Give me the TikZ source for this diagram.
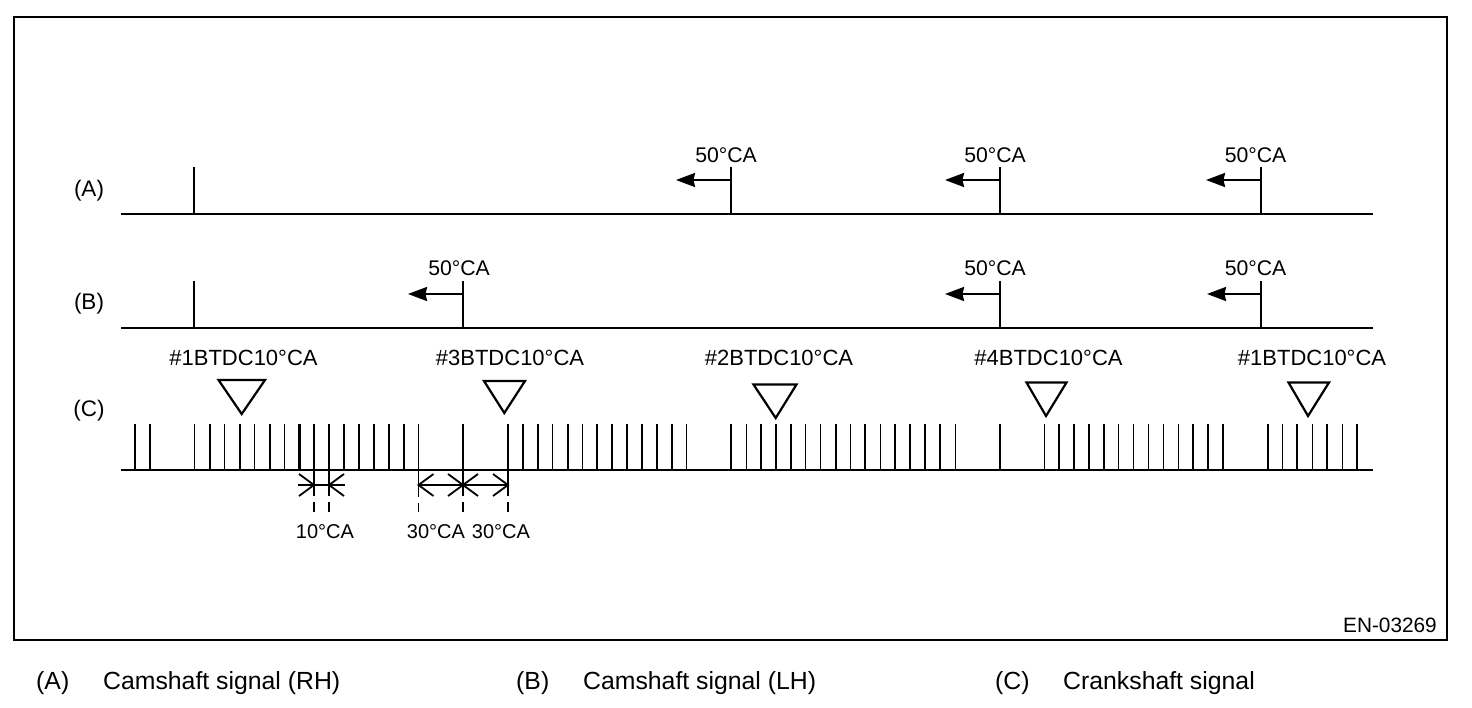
\documentclass[tikz,border=0pt]{standalone}
\usepackage{fontspec}
\setmainfont{Liberation Sans}
\usetikzlibrary{arrows.meta}
\tikzset{
  lbl/.style={font=\fontsize{21.2}{24}\selectfont,inner sep=0pt,text=black},
  btdc/.style={font=\fontsize{22}{24}\selectfont,inner sep=0pt,text=black},
  small/.style={font=\fontsize{20}{22}\selectfont,inner sep=0pt,text=black},
  side/.style={font=\fontsize{22.5}{24}\selectfont,inner sep=0pt,text=black},
  legend/.style={font=\fontsize{24.8}{26}\selectfont,inner sep=0pt,anchor=base west,text=black},
  base/.style={line width=2.6pt},
  tick/.style={line width=2.2pt},
  thintick/.style={line width=1.4pt},
  mark50/.style={line width=2.2pt,-{Stealth[length=19pt,width=14pt,inset=1.5pt]}},
  tri/.style={line width=2.2pt,line join=miter},
  dim/.style={line width=1.8pt},
  ext/.style={line width=1.6pt},
}
\begin{document}
\begin{tikzpicture}[x=1pt,y=-1pt]
\useasboundingbox (0,0) rectangle (1472,708);
\draw[line width=1.8pt] (14,17) rectangle (1447,640);
% baselines
\foreach \y in {214,328,470} \draw[base] (121,\y) -- (1373,\y);
% signal A and B marks
\draw[tick] (194,167) -- (194,214);
\draw[tick] (194,281) -- (194,328);
\draw[tick] (731,167) -- (731,214);
\draw[thintick] (1000,167) -- (1000,214);
\draw[tick] (1261,167) -- (1261,214);
\draw[thintick] (463,281) -- (463,328);
\draw[tick] (1000,281) -- (1000,328);
\draw[tick] (1261,281) -- (1261,328);
\draw[mark50] (731,180) -- (676,180);
\draw[mark50] (1000,180) -- (945,180);
\draw[mark50] (1261,180) -- (1206,180);
\draw[mark50] (463,294) -- (408,294);
\draw[mark50] (1000,294) -- (945,294);
\draw[mark50] (1261,294) -- (1207,294);
% crank teeth
\foreach \x in {135,150,209.7,239.7,269.7,299.5,314,329,344,359,374,404,463,508,538,567.7,597.3,612.3,627.3,642,672,731,761,776,791,836,865.3,895.3,910,925.3,940,1000,1059.3,1074,1089,1104,1193,1208.3,1223.3,1268,1297.3,1327.3,1357}
  \draw[tick] (\x,424) -- (\x,470);
\foreach \x in {194.7,224.7,254.7,284.7,389,418.5,523,552.7,582.7,657,686.7,746.7,805.7,820.7,850.7,880.3,955.3,1044.7,1118.7,1133.7,1148.7,1163.3,1178.3,1282.7,1312.7,1342.3}
  \draw[thintick] (\x,424) -- (\x,470);
% triangles
\draw[tri] (218.5,380) -- (265,380) -- (241.7,414) -- cycle;
\draw[tri] (484,381) -- (525,381) -- (504.3,413) -- cycle;
\draw[tri] (753.5,384.5) -- (796.5,384.5) -- (775.7,418) -- cycle;
\draw[tri] (1026.5,382.5) -- (1066.5,382.5) -- (1046,416) -- cycle;
\draw[tri] (1288.5,382.5) -- (1329,382.5) -- (1308,416) -- cycle;
% dimension extensions
\foreach \x in {314,329,463,508} {
  \draw[ext] (\x,470) -- (\x,496);
  \draw[ext] (\x,502) -- (\x,512);
}
\draw[ext] (418.5,470) -- (418.5,497);
\draw[ext] (418.5,503) -- (418.5,512);
% dimensions
\draw[dim] (298,485) -- (345,485);
\draw[dim] (418,485) -- (508,485);
\foreach \x/\d in {314/-1,329/1,418.5/1,463/-1,463/1,508/-1}
  \draw[dim] (\x+\d*15,474) -- (\x,485) -- (\x+\d*15,496);
% texts
\node[side] (ta) at (89,190.5) {(A)};
\node[side] (tb) at (89,303.5) {(B)};
\node[side] (tc) at (89,410.5) {(C)};
\node[lbl] (a1) at (726,155) {50°CA};
\node[lbl] (a2) at (995,155) {50°CA};
\node[lbl] (a3) at (1255.5,155) {50°CA};
\node[lbl] (b1) at (459,268) {50°CA};
\node[lbl] (b2) at (995,268) {50°CA};
\node[lbl] (b3) at (1255.5,268) {50°CA};
\node[btdc] (c1) at (243.5,358) {\#1BTDC10°CA};
\node[btdc] (c2) at (510,358) {\#3BTDC10°CA};
\node[btdc] (c3) at (779,358) {\#2BTDC10°CA};
\node[btdc] (c4) at (1048.5,358) {\#4BTDC10°CA};
\node[btdc] (c5) at (1312,358) {\#1BTDC10°CA};
\node[small] (d1) at (325,531.5) {10°CA};
\node[small] (d2) at (436,531.5) {30°CA};
\node[small] (d3) at (501,531.5) {30°CA};
\node[lbl,anchor=east,font=\fontsize{20.8}{24}\selectfont] (code) at (1437,625) {EN-03269};
\node[legend] (la) at (36,689) {(A)};
\node[legend] (lat) at (103,689) {Camshaft signal (RH)};
\node[legend] (lb) at (516,689) {(B)};
\node[legend] (lbt) at (583,689) {Camshaft signal (LH)};
\node[legend] (lc) at (995,689) {(C)};
\node[legend] (lct) at (1063,689) {Crankshaft signal};
\end{tikzpicture}
\end{document}
